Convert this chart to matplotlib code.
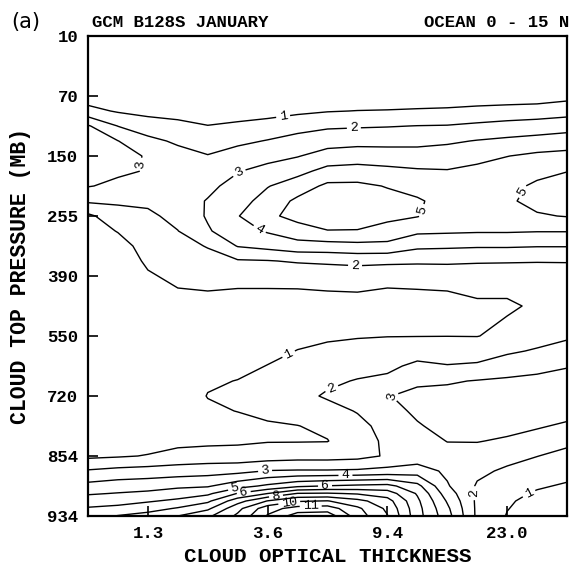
import matplotlib.pyplot as plt
import numpy as np

plt.rcParams['font.family'] = ['Liberation Mono', 'DejaVu Sans Mono']

# cloud top pressure bins (mb), listed from the surface upward
pressure_labels = ['934', '854', '720', '550', '390', '255', '150', '70', '10']
# optical thickness bin boundaries
tau_labels = ['1.3', '3.6', '9.4', '23.0']

# grid positions, in bin units
tau_pos = [0.5, 0.75, 1.0, 1.25, 1.5, 1.75, 2.0, 2.25, 2.5,
           2.75, 3.0, 3.25, 3.5, 3.75, 4.0, 4.25, 4.5]
pres_pos = [0, 0.125, 0.25, 0.375, 0.5, 0.75, 1.0, 1.25, 1.5, 1.75,
            2.0, 2.25, 2.5, 2.75, 3.0, 3.5, 4.0, 4.25, 4.5, 4.75,
            5.0, 5.25, 5.5, 5.75, 6.0, 6.25, 6.5, 6.75, 7.0, 7.5, 8.0]

# cloud frequency (%), one row per pressure position, from 934 mb up to 10 mb
freq = [
    [5.6, 6.05, 6.4, 7.0, 7.8, 9.2, 11.1, 12.5, 12.6, 10.5, 9.05, 6.4, 4.4, 1.8, 0.95, 0.6, 0.5],
    [5.1, 5.3, 5.6, 6.1, 6.8, 8.7, 10.6, 11.4, 11.5, 10.2, 8.8, 6.35, 4.2, 1.8, 1.03, 0.65, 0.55],
    [4.5, 4.6, 4.9, 5.2, 5.8, 7.6, 9.05, 9.9, 10.05, 9.3, 8.4, 6.2, 3.9, 1.8, 1.1, 0.75, 0.65],
    [3.9, 4.05, 4.2, 4.5, 4.8, 6.05, 7.0, 8.05, 8.1, 7.9, 7.5, 5.9, 3.5, 1.85, 1.25, 0.9, 0.75],
    [3.3, 3.5, 3.6, 3.8, 3.9, 4.6, 5.2, 5.8, 6.05, 6.2, 6.3, 5.3, 3.1, 1.9, 1.45, 1.1, 0.9],
    [2.1, 2.3, 2.4, 2.5, 2.6, 2.7, 3.05, 3.1, 3.1, 3.15, 3.3, 3.5, 2.8, 2.2, 1.85, 1.5, 1.3],
    [0.8, 0.9, 1.05, 1.3, 1.4, 1.4, 1.5, 1.6, 1.6, 1.7, 2.1, 2.4, 2.6, 2.5, 2.3, 2.02, 1.7],
    [0.5, 0.5, 0.6, 0.75, 0.8, 0.85, 0.95, 0.95, 0.97, 1.65, 2.15, 2.5, 3.03, 3.05, 2.85, 2.6, 2.25],
    [0.4, 0.45, 0.5, 0.5, 0.6, 0.7, 0.9, 0.98, 1.2, 1.75, 2.3, 2.9, 3.35, 3.5, 3.35, 3.1, 2.85],
    [0.4, 0.4, 0.45, 0.5, 0.85, 1.02, 1.2, 1.4, 1.7, 2.05, 2.6, 3.2, 3.5, 3.6, 3.55, 3.4, 3.35],
    [0.4, 0.4, 0.45, 0.5, 1.03, 1.3, 1.4, 1.75, 2.1, 2.25, 2.95, 3.3, 3.3, 3.5, 3.5, 3.5, 3.5],
    [0.4, 0.45, 0.5, 0.5, 0.9, 1.02, 1.2, 1.6, 1.85, 2.05, 2.2, 2.8, 2.9, 3.05, 3.15, 3.25, 3.3],
    [0.4, 0.4, 0.45, 0.45, 0.7, 0.8, 1.02, 1.4, 1.5, 1.7, 1.8, 2.2, 2.05, 2.15, 2.5, 2.7, 2.95],
    [0.4, 0.4, 0.45, 0.45, 0.6, 0.65, 0.8, 1.02, 1.15, 1.25, 1.35, 1.6, 1.5, 1.5, 1.85, 2.1, 2.4],
    [0.4, 0.4, 0.45, 0.4, 0.55, 0.5, 0.6, 0.8, 0.9, 0.95, 0.98, 0.98, 0.99, 0.98, 1.2, 1.6, 1.85],
    [0.4, 0.45, 0.5, 0.7, 0.8, 0.65, 0.65, 0.6, 0.7, 0.7, 0.7, 0.75, 0.7, 0.85, 0.9, 1.1, 1.3],
    [0.4, 0.45, 0.9, 1.2, 1.2, 1.25, 1.25, 1.3, 1.3, 1.35, 1.2, 1.2, 1.3, 1.45, 1.3, 1.5, 1.6],
    [0.4, 0.45, 1.15, 1.45, 1.7, 1.9, 1.95, 2.1, 2.2, 2.3, 2.25, 2.2, 2.2, 2.1, 2.1, 2.05, 2.05],
    [0.4, 0.6, 1.4, 1.7, 2.05, 3.05, 3.3, 3.6, 3.6, 3.7, 3.7, 3.2, 3.15, 3.1, 3.1, 3.05, 3.05],
    [0.5, 1.05, 1.6, 1.98, 2.9, 3.6, 4.1, 4.6, 4.97, 4.95, 4.7, 4.2, 4.15, 4.1, 4.1, 4.05, 4.05],
    [0.8, 1.6, 1.8, 2.3, 3.1, 3.95, 4.8, 5.3, 5.45, 5.5, 5.2, 5.05, 4.6, 4.5, 4.6, 4.9, 5.05],
    [2.15, 2.15, 2.2, 2.6, 3.05, 3.6, 4.4, 5.2, 5.6, 5.6, 5.3, 5.1, 4.7, 4.7, 4.85, 5.3, 5.45],
    [3.05, 2.8, 2.6, 2.8, 2.8, 3.3, 3.95, 4.5, 5.2, 5.2, 4.95, 4.7, 4.45, 4.55, 4.75, 5.15, 5.45],
    [3.3, 3.15, 2.95, 2.7, 2.5, 2.95, 3.3, 3.7, 4.3, 4.4, 4.25, 4.1, 4.05, 4.25, 4.45, 4.75, 4.97],
    [3.4, 3.2, 2.95, 2.35, 2.05, 2.4, 2.7, 2.95, 3.4, 3.5, 3.45, 3.45, 3.5, 3.7, 3.98, 4.2, 4.3],
    [3.3, 3.02, 2.25, 1.85, 1.5, 1.8, 2.05, 2.35, 2.6, 2.7, 2.7, 2.7, 2.85, 3.05, 3.2, 3.35, 3.5],
    [3.1, 1.98, 1.5, 1.25, 1.02, 1.2, 1.4, 1.65, 1.85, 1.9, 1.95, 2.02, 2.05, 2.2, 2.35, 2.45, 2.6],
    [1.3, 0.9, 0.7, 0.65, 0.6, 0.5, 0.6, 0.8, 0.95, 1.02, 1.05, 1.1, 1.15, 1.25, 1.35, 1.45, 1.6],
    [0.5, 0.4, 0.35, 0.3, 0.3, 0.3, 0.3, 0.35, 0.4, 0.4, 0.4, 0.45, 0.45, 0.5, 0.5, 0.5, 0.7],
    [0.1] * 17,
    [0.0] * 17,
]

# where the contour numbers go
label_spots = [(2.13, 6.65), (2.72, 6.47), (0.97, 5.85), (1.76, 5.73),
               (1.93, 4.77), (3.41, 5.02), (4.15, 5.38), (2.73, 4.17),
               (2.18, 2.68), (2.53, 2.15), (3.01, 2.05), (1.98, 0.73),
               (2.65, 0.68), (1.73, 0.43), (1.80, 0.40), (2.48, 0.48),
               (2.07, 0.33), (2.18, 0.23), (2.36, 0.15), (3.73, 0.38),
               (4.17, 0.43)]

fig = plt.figure(figsize=(5.69, 5.71), dpi=100)
ax = fig.add_axes([88 / 569, 55 / 571, 479 / 569, 480 / 571])

cs = ax.contour(tau_pos, pres_pos, np.array(freq), levels=np.arange(1, 13),
                colors='black', linewidths=1.0)
ax.clabel(cs, fmt='%d', manual=label_spots, inline=True,
          inline_spacing=3, fontsize=9.5)

ax.set_xlim(0.5, 4.5)
ax.set_ylim(0, 8)
ax.set_xticks(range(1, 5))
ax.set_xticklabels(tau_labels)
ax.set_yticks(range(len(pressure_labels)))
ax.set_yticklabels(pressure_labels)
ax.tick_params(direction='in', length=7, width=1.2, top=False, right=False,
               labelsize=12.5, pad=7)
for lab in ax.get_xticklabels() + ax.get_yticklabels():
    lab.set_fontweight('bold')
for sp in ax.spines.values():
    sp.set_linewidth(1.6)

ax.set_xlabel('CLOUD OPTICAL THICKNESS', fontsize=15, fontweight='bold')
ax.set_ylabel('CLOUD TOP PRESSURE (MB)', fontsize=15.5, fontweight='bold')
ax.xaxis.set_label_coords(0.5, -0.085)
ax.xaxis.label.set_va('center')
ax.yaxis.set_label_coords(-0.14, 0.5)
ax.yaxis.label.set_va('center')

fig.text(0.019, 0.962, '(a)', fontsize=15, family='DejaVu Sans', va='center')
fig.text(92 / 569, 0.96, 'GCM B128S JANUARY', fontsize=12.5,
         fontweight='bold', va='center')
fig.text(424 / 569, 0.96, 'OCEAN 0 - 15 N', fontsize=12.5,
         fontweight='bold', va='center')

fig.savefig('out.png', dpi=100)
